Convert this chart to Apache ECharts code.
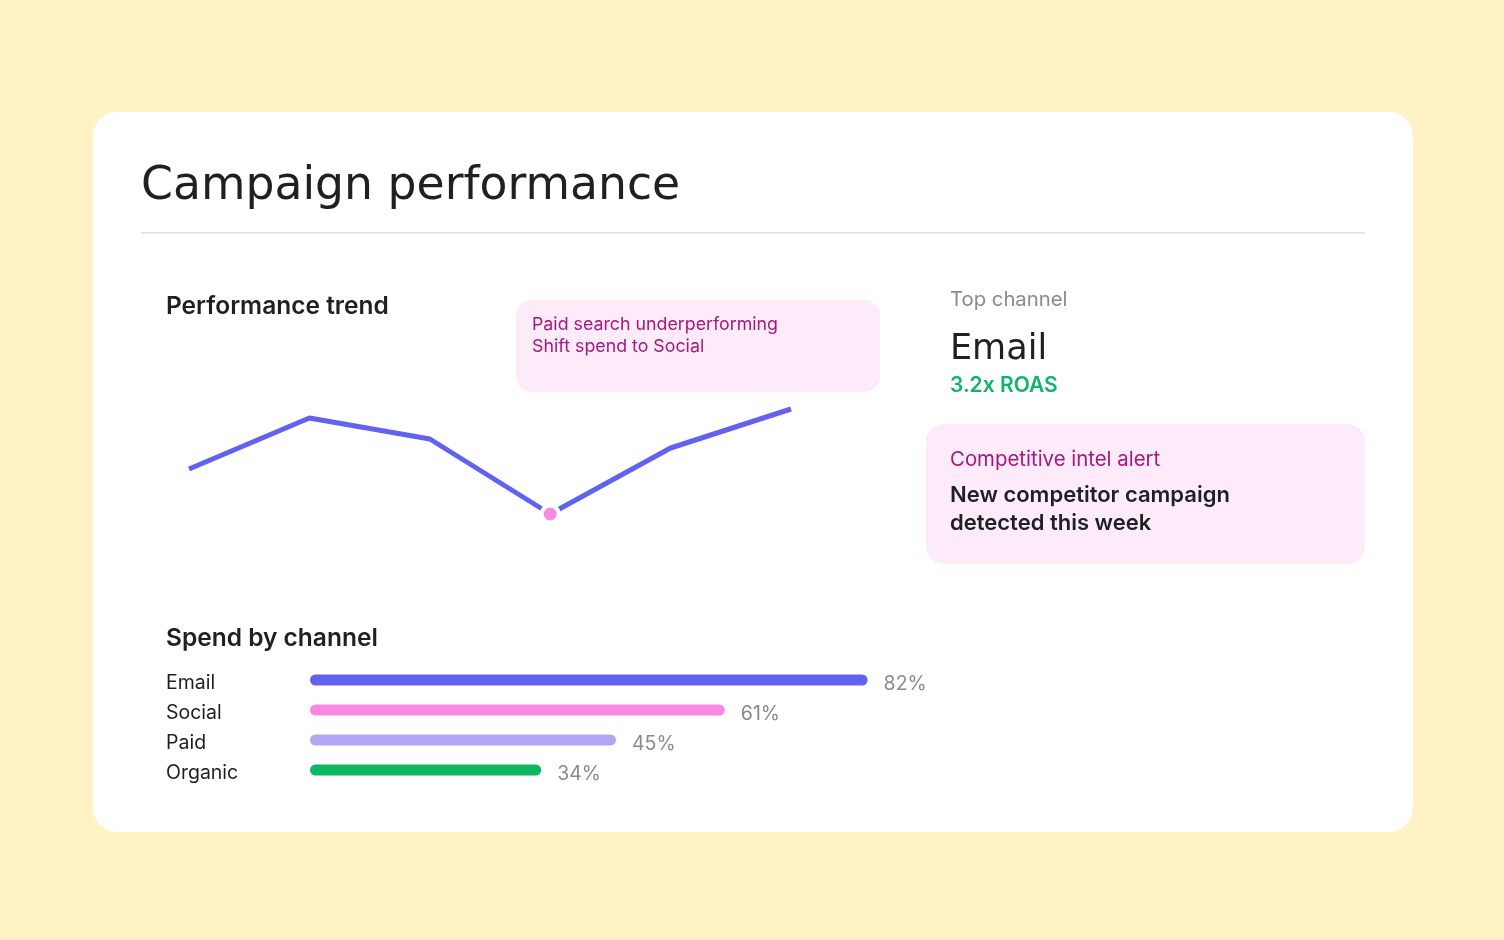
<!DOCTYPE html>
<html>
<head>
<meta charset="utf-8">
<script src="https://cdn.jsdelivr.net/npm/echarts@6/dist/echarts.min.js"></script>
<style>
html,body{margin:0;padding:0;background:#FFF2C4;}
#c{width:1504px;height:940px;}
</style>
</head>
<body>
<div id="c"></div>
<script>
// Data
const trendWeeks = ['W1','W2','W3','W4','W5','W6'];
const trendValues = [50, 67, 60, 35, 57, 70];
const lowPointIndex = 3;
const channels = ['Email','Social','Paid','Organic'];
const spendShare = [82, 61, 45, 34];
const channelColors = ['#6161F2','#F78AE0','#AFA9F5','#0CB862'];

const FONT = 'Inter, "Noto Sans", sans-serif';
const DISPLAY = '"DejaVu Sans", sans-serif';
const chart = echarts.init(document.getElementById('c'), null, {renderer:'canvas'});

const option = {
  backgroundColor: '#FFF2C4',
  animation: false,
  grid: [
    {left: 189, right: 713, top: 319, bottom: 321, containLabel: false},
    {left: 310, width: 680, top: 665, height: 120, containLabel: false}
  ],
  xAxis: [
    {type:'category', gridIndex:0, data: trendWeeks, boundaryGap:false, show:false},
    {type:'value', gridIndex:1, min:0, max:100, show:false}
  ],
  yAxis: [
    {type:'value', gridIndex:0, min:0, max:100, show:false},
    {type:'category', gridIndex:1, data: channels, inverse:true,
      axisLine:{show:false}, axisTick:{show:false}, splitLine:{show:false},
      axisLabel:{align:'left', margin:144, formatter:'{n|{value}}',
        rich:{n:{color:'#1F2024', fontSize:19.5, fontFamily:FONT, padding:[7,0,0,0]}}}}
  ],
  series: [
    {
      type:'line', xAxisIndex:0, yAxisIndex:0,
      data: trendValues.map((v,i)=> i===lowPointIndex ? {
        value:v, symbol:'circle', symbolSize:17,
        itemStyle:{color:'#F78AE0', borderColor:'#fff', borderWidth:4}
      } : {value:v, symbol:'none'}),
      lineStyle:{color:'#6161F2', width:5},
      showSymbol:true, z:5
    },
    {
      type:'bar', xAxisIndex:1, yAxisIndex:1,
      data: spendShare.map((v,i)=>({value:v, itemStyle:{color:channelColors[i]}})),
      barWidth:11,
      itemStyle:{borderRadius:6},
      label:{show:true, position:'right', distance:16, offset:[0,4], formatter:'{c}%', color:'#8A8A8F', fontSize:19.5, fontFamily:FONT}
    }
  ],
  graphic: [
    {type:'rect', z:-10, shape:{x:93, y:112, width:1320, height:720, r:24}, style:{fill:'#FFFFFF'}},
    {type:'text', left:141, top:164, style:{text:'Campaign performance', font:'400 45.7px '+DISPLAY, fill:'#1F2024'}},
    {type:'rect', shape:{x:141, y:232, width:1224, height:1.5}, style:{fill:'#E0E0E0'}},
    {type:'text', left:166, top:294, style:{text:'Performance trend', font:'600 24.5px '+FONT, fill:'#1F2024'}},
    {type:'rect', shape:{x:516, y:300, width:364, height:92, r:16}, style:{fill:'#FDEBFA'}},
    {type:'text', left:532, top:314, style:{text:'Paid search underperforming\nShift spend to Social', font:'400 17.8px '+FONT, lineHeight:22, fill:'#A3197F'}},
    {type:'text', left:166, top:626, style:{text:'Spend by channel', font:'600 24.5px '+FONT, fill:'#1F2024'}},
    {type:'text', left:950, top:290, style:{text:'Top channel', font:'400 20.3px '+FONT, fill:'#8A8A8F'}},
    {type:'text', left:950, top:332, style:{text:'Email', font:'400 35px '+DISPLAY, fill:'#1F2024'}},
    {type:'text', left:950, top:375, style:{text:'3.2x ROAS', font:'600 21px '+FONT, fill:'#13B36A'}},
    {type:'rect', shape:{x:926, y:424, width:439, height:140, r:18}, style:{fill:'#FDEBFA'}},
    {type:'text', left:950, top:450, style:{text:'Competitive intel alert', font:'400 20.4px '+FONT, fill:'#A3197F'}},
    {type:'text', left:950, top:481, style:{text:'New competitor campaign\ndetected this week', font:'600 22px '+FONT, lineHeight:28, fill:'#1F2024'}}
  ]
};
chart.setOption(option);
</script>
</body>
</html>
